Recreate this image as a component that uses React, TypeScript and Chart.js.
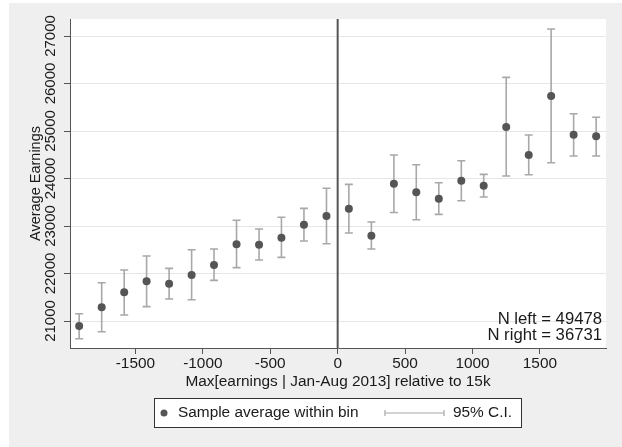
import React, { useEffect, useRef } from "react";
import { Chart, registerables } from "chart.js";

Chart.register(...registerables);

// Bin centres (Max earnings relative to 15k)
const binCenters = [
  -1917, -1750, -1583, -1417, -1250, -1083, -917, -750, -583, -417, -250, -83,
  83, 250, 417, 583, 750, 917, 1083, 1250, 1417, 1583, 1750, 1917,
];
// Sample average within bin
const binMeans = [
  20895, 21288, 21604, 21835, 21786, 21968, 22179, 22614, 22607, 22754, 23025, 23211,
  23365, 22796, 23891, 23709, 23575, 23954, 23849, 25084, 24495, 25737, 24923, 24888,
];
// 95% C.I. lower bound
const ciLower = [
  20627, 20775, 21126, 21302, 21463, 21449, 21856, 22123, 22284, 22340, 22684, 22628,
  22853, 22516, 23284, 23133, 23246, 23533, 23611, 24053, 24080, 24333, 24474, 24474,
];
// 95% C.I. upper bound
const ciUpper = [
  21154, 21807, 22074, 22368, 22109, 22501, 22516, 23120, 22937, 23183, 23372, 23794,
  23877, 23084, 24495, 24291, 23912, 24375, 24088, 26130, 24916, 27147, 25364, 25291,
];
const xTicks = [-1500, -1000, -500, 0, 500, 1000, 1500];
const yTicks = [21000, 22000, 23000, 24000, 25000, 26000, 27000];
const cutoff = 0;
const nLeft = 49478;
const nRight = 36731;

const FONT = "'Liberation Sans', Arial, sans-serif";
const TEXT = "#1a1a1a";
const MARK = "#555555";
const CI = "#a8a8a8";

const bgPlugin = {
  id: "bg",
  beforeDraw(chart: any) {
    const { ctx, chartArea: a } = chart;
    ctx.save();
    ctx.fillStyle = "#ffffff";
    ctx.fillRect(0, 0, chart.width, chart.height);
    ctx.fillStyle = "#efefef";
    ctx.fillRect(9, 3, chart.width - 9, chart.height - 3);
    ctx.fillStyle = "#ffffff";
    ctx.fillRect(a.left, a.top, a.right - a.left, a.bottom - a.top);
    ctx.restore();
  },
};

const errPlugin = {
  id: "errbars",
  beforeDatasetsDraw(chart: any) {
    const { ctx, chartArea: a } = chart;
    const xs = chart.scales.x;
    const ys = chart.scales.y;
    ctx.save();
    // cutoff line
    const cx = xs.getPixelForValue(cutoff);
    ctx.strokeStyle = MARK;
    ctx.lineWidth = 2;
    ctx.beginPath();
    ctx.moveTo(cx, a.top);
    ctx.lineTo(cx, a.bottom);
    ctx.stroke();
    // CI bars
    ctx.strokeStyle = CI;
    ctx.lineWidth = 1.6;
    binCenters.forEach((x, i) => {
      const px = xs.getPixelForValue(x);
      const lo = ys.getPixelForValue(ciLower[i]);
      const hi = ys.getPixelForValue(ciUpper[i]);
      ctx.beginPath();
      ctx.moveTo(px, lo);
      ctx.lineTo(px, hi);
      ctx.moveTo(px - 4, lo);
      ctx.lineTo(px + 4, lo);
      ctx.moveTo(px - 4, hi);
      ctx.lineTo(px + 4, hi);
      ctx.stroke();
    });
    ctx.restore();
  },
};

const textPlugin = {
  id: "texts",
  afterDraw(chart: any) {
    const { ctx, chartArea: a } = chart;
    const ys = chart.scales.y;
    ctx.save();
    ctx.fillStyle = TEXT;
    ctx.font = `15px ${FONT}`;
    // y tick labels (rotated)
    yTicks.forEach((v) => {
      const py = ys.getPixelForValue(v);
      ctx.save();
      ctx.translate(51, py);
      ctx.rotate(-Math.PI / 2);
      ctx.textAlign = "center";
      ctx.textBaseline = "middle";
      ctx.fillText(String(v), 0, 0);
      ctx.restore();
    });
    // y title
    ctx.font = `14.5px ${FONT}`;
    ctx.save();
    ctx.translate(35.5, (a.top + a.bottom) / 2);
    ctx.rotate(-Math.PI / 2);
    ctx.textAlign = "center";
    ctx.textBaseline = "middle";
    ctx.fillText("Average Earnings", 0, 0);
    ctx.restore();
    // N annotations
    ctx.font = `16.7px ${FONT}`;
    ctx.textAlign = "right";
    ctx.textBaseline = "alphabetic";
    ctx.fillText(`N left = ${nLeft}`, 602, 324);
    ctx.fillText(`N right = ${nRight}`, 602, 340);
    // legend
    const lx = 154.5, ly = 398.5, lw = 367, lh = 29;
    ctx.fillStyle = "#ffffff";
    ctx.fillRect(lx, ly, lw, lh);
    ctx.strokeStyle = "#333333";
    ctx.lineWidth = 1;
    ctx.strokeRect(lx, ly, lw, lh);
    const my = ly + lh / 2;
    ctx.fillStyle = MARK;
    ctx.beginPath();
    ctx.arc(164, my, 3.5, 0, Math.PI * 2);
    ctx.fill();
    ctx.fillStyle = TEXT;
    ctx.font = `15.4px ${FONT}`;
    ctx.textAlign = "left";
    ctx.textBaseline = "middle";
    ctx.fillText("Sample average within bin", 178, my);
    ctx.strokeStyle = CI;
    ctx.lineWidth = 1.2;
    ctx.beginPath();
    ctx.moveTo(385, my);
    ctx.lineTo(444, my);
    ctx.moveTo(385, my - 3);
    ctx.lineTo(385, my + 3);
    ctx.moveTo(444, my - 3);
    ctx.lineTo(444, my + 3);
    ctx.stroke();
    ctx.fillText("95% C.I.", 453, my);
    ctx.restore();
  },
};

export default function App() {
  const ref = useRef<HTMLCanvasElement | null>(null);
  useEffect(() => {
    if (!ref.current) return;
    const chart = new Chart(ref.current, {
      type: "scatter",
      data: {
        datasets: [
          {
            label: "Sample average within bin",
            data: binCenters.map((x, i) => ({ x, y: binMeans[i] })),
            pointRadius: 4,
            pointHoverRadius: 4,
            backgroundColor: MARK,
            borderWidth: 0,
          },
        ],
      },
      options: {
        animation: false,
        responsive: false,
        layout: { padding: { left: 0, right: 16, top: 19, bottom: 0 } },
        plugins: { legend: { display: false }, tooltip: { enabled: false } },
        scales: {
          x: {
            type: "linear",
            min: -1985,
            max: 1990,
            afterBuildTicks: (s: any) => {
              s.ticks = xTicks.map((v) => ({ value: v }));
            },
            afterFit: (s: any) => {
              s.height = 99;
            },
            ticks: {
              font: { family: FONT, size: 15.4 },
              color: TEXT,
              padding: 1,
              maxRotation: 0,
              autoSkip: false,
              callback: (v: any) => String(v),
            },
            grid: {
              drawOnChartArea: false,
              drawTicks: true,
              tickLength: 6,
              tickColor: MARK,
            },
            border: { color: MARK, width: 1 },
            title: {
              display: true,
              text: "Max[earnings | Jan-Aug 2013] relative to 15k",
              font: { family: FONT, size: 15.4 },
              color: TEXT,
              padding: { top: 0, bottom: 56 },
            },
          },
          y: {
            type: "linear",
            min: 20432,
            max: 27358,
            afterBuildTicks: (s: any) => {
              s.ticks = yTicks.map((v) => ({ value: v }));
            },
            afterFit: (s: any) => {
              s.width = 70;
            },
            ticks: { display: false },
            grid: {
              color: "#e6e6e6",
              lineWidth: 1,
              drawTicks: true,
              tickLength: 6,
              tickColor: MARK,
            },
            border: { color: MARK, width: 1 },
          },
        },
      },
      plugins: [bgPlugin, errPlugin, textPlugin],
    });
    return () => chart.destroy();
  }, []);
  return (
    <div style={{ position: "absolute", left: 0, top: 0, width: 622, height: 447 }}>
      <canvas ref={ref} width={622} height={447} style={{ width: 622, height: 447, display: "block" }} />
    </div>
  );
}
